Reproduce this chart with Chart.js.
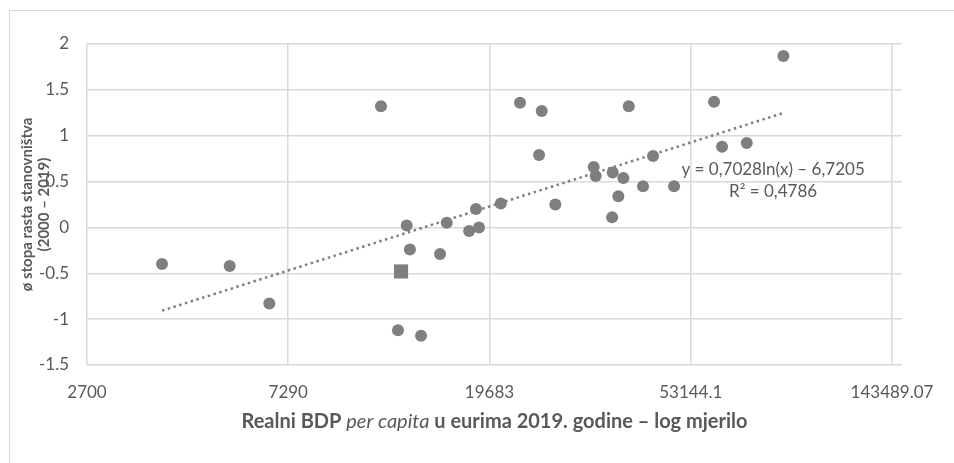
<!DOCTYPE html>
<html>
<head>
<meta charset="utf-8">
<script src="https://cdn.jsdelivr.net/npm/chart.js@4/dist/chart.umd.min.js"></script>
<style>
  html, body { margin: 0; padding: 0; background: #fff; overflow: hidden; }
  #wrap { position: relative; width: 954px; height: 463px; }
  #frame { position: absolute; left: 9px; top: 10px; width: 1000px; height: 500px;
           border: 1px solid #d9d9d9; box-sizing: border-box; }
  #c { position: absolute; left: 0; top: 0; }
</style>
</head>
<body>
<div id="wrap">
  <div id="frame"></div>
  <canvas id="c" width="954" height="463"></canvas>
</div>
<script>
// Tick positions and labels
const xTickValues = [2700, 7290, 19683, 53144.1, 143489.07];
const xTickLabels = ['2700', '7290', '19683', '53144.1', '143489.07'];
const yTickValues = [-1.5, -1, -0.5, 0, 0.5, 1, 1.5, 2];
const yTickLabels = ['-1.5', '-1', '-0.5', '0', '0.5', '1', '1.5', '2'];

// Real GDP per capita (EUR, 2019) and average population growth 2000–2019 (%)
const gdpPerCapita = [
  3910, 5460, 6640, 11520, 12530, 14040, 13080, 13290, 15420, 15940,
  17800, 18690, 18410, 20810, 22880, 25470, 25140, 27240, 32920, 33250,
  36050, 36160, 37180, 38110, 39140, 41990, 44120, 48940, 59620, 62020,
  70070, 83940
];
const populationGrowth = [
  -0.40, -0.42, -0.83, 1.32, -1.12, -1.18, 0.02, -0.24, -0.29, 0.05,
  -0.04, 0.00, 0.20, 0.26, 1.36, 1.27, 0.79, 0.25, 0.66, 0.56,
  0.11, 0.60, 0.34, 0.54, 1.32, 0.45, 0.78, 0.45, 1.37, 0.88,
  0.92, 1.87
];

// Highlighted country (square marker)
const highlightGdp = [12720];
const highlightGrowth = [-0.48];

// Logarithmic trendline as stated on the chart
const trendSlope = 0.7028;
const trendIntercept = -6.7205;
const trendEquation = 'y = 0,7028ln(x) \u2013 6,7205';
const trendR2 = 'R\u00B2 = 0,4786';

const yTitleLines = ['\u00F8 stopa rasta stanovni\u0161tva', '(2000 \u2013 2019)'];
const xTitleParts = [
  { text: 'Realni BDP ', font: 'bold 20px Lato' },
  { text: 'per capita', font: 'italic 20px Lato' },
  { text: ' u eurima 2019. godine \u2013 log mjerilo', font: 'bold 20px Lato' }
];

const markerColor = '#7f7f7f';
const gridColor = '#d9d9d9';
const textColor = '#595959';

const points = gdpPerCapita.map((x, i) => ({ x, y: populationGrowth[i] }));
const highlight = highlightGdp.map((x, i) => ({ x, y: highlightGrowth[i] }));
const allX = gdpPerCapita.concat(highlightGdp);
const xMin = Math.min(...allX), xMax = Math.max(...allX);
const trend = [xMin, xMax].map(x => ({ x, y: trendSlope * Math.log(x) + trendIntercept }));

const textPlugin = {
  id: 'chartTexts',
  afterDraw(chart) {
    const { ctx, chartArea, scales } = chart;
    ctx.save();
    ctx.fillStyle = textColor;
    ctx.textBaseline = 'middle';

    // x-axis title with mixed styles, centred under the plot
    let total = 0;
    xTitleParts.forEach(p => { ctx.font = p.font; total += ctx.measureText(p.text).width; });
    let x = (chartArea.left + chartArea.right) / 2 - total / 2;
    const yTitle = chartArea.bottom + 57;
    ctx.textAlign = 'left';
    xTitleParts.forEach(p => {
      ctx.font = p.font;
      ctx.fillText(p.text, x, yTitle);
      x += ctx.measureText(p.text).width;
    });

    // rotated y-axis title, two lines
    ctx.save();
    ctx.translate(27, (chartArea.top + chartArea.bottom) / 2);
    ctx.rotate(-Math.PI / 2);
    ctx.textAlign = 'center';
    ctx.font = 'bold 15px Lato';
    yTitleLines.forEach((line, i) => ctx.fillText(line, 0, i * 17));
    ctx.restore();

    // trendline equation
    const ex = scales.x.getPixelForValue(79800);
    const ey = scales.y.getPixelForValue(0.626);
    ctx.textAlign = 'center';
    ctx.font = '17px Lato';
    ctx.fillText(trendEquation, ex, ey);
    ctx.fillText(trendR2, ex, ey + 22);
    ctx.restore();
  }
};

new Chart(document.getElementById('c'), {
  type: 'scatter',
  data: {
    datasets: [
      {
        type: 'line',
        data: trend,
        borderColor: markerColor,
        borderWidth: 2.5,
        borderDash: [2.5, 3.5],
        pointRadius: 0,
        fill: false,
        order: 0
      },
      {
        data: points,
        backgroundColor: markerColor,
        borderWidth: 0,
        pointRadius: 6,
        pointHoverRadius: 6,
        order: 1
      },
      {
        data: highlight,
        backgroundColor: markerColor,
        borderWidth: 0,
        pointStyle: 'rect',
        pointRadius: 10,
        pointHoverRadius: 10,
        order: 1
      }
    ]
  },
  options: {
    responsive: false,
    animation: false,
    events: [],
    layout: { padding: { top: 44, right: 52, left: 0, bottom: 0 } },
    plugins: { legend: { display: false }, tooltip: { enabled: false } },
    scales: {
      x: {
        type: 'logarithmic',
        min: 2700,
        max: 150750,
        afterBuildTicks(scale) { scale.ticks = xTickValues.map(v => ({ value: v })); },
        afterFit(scale) { scale.height = 98; },
        grid: { color: gridColor, lineWidth: 1.5, drawTicks: false },
        border: { display: false },
        ticks: {
          padding: 17,
          color: textColor,
          font: { family: 'Lato', size: 17 },
          maxRotation: 0,
          autoSkip: false,
          callback: (v, i) => xTickLabels[i]
        }
      },
      y: {
        type: 'linear',
        min: -1.5,
        max: 2,
        afterBuildTicks(scale) { scale.ticks = yTickValues.map(v => ({ value: v })); },
        afterFit(scale) { scale.width = 87; },
        grid: { color: gridColor, lineWidth: 1.5, drawTicks: false },
        border: { display: false },
        ticks: {
          padding: 18,
          color: textColor,
          font: { family: 'Lato', size: 17 },
          callback: (v, i) => yTickLabels[i]
        }
      }
    }
  },
  plugins: [textPlugin]
});
</script>
</body>
</html>
